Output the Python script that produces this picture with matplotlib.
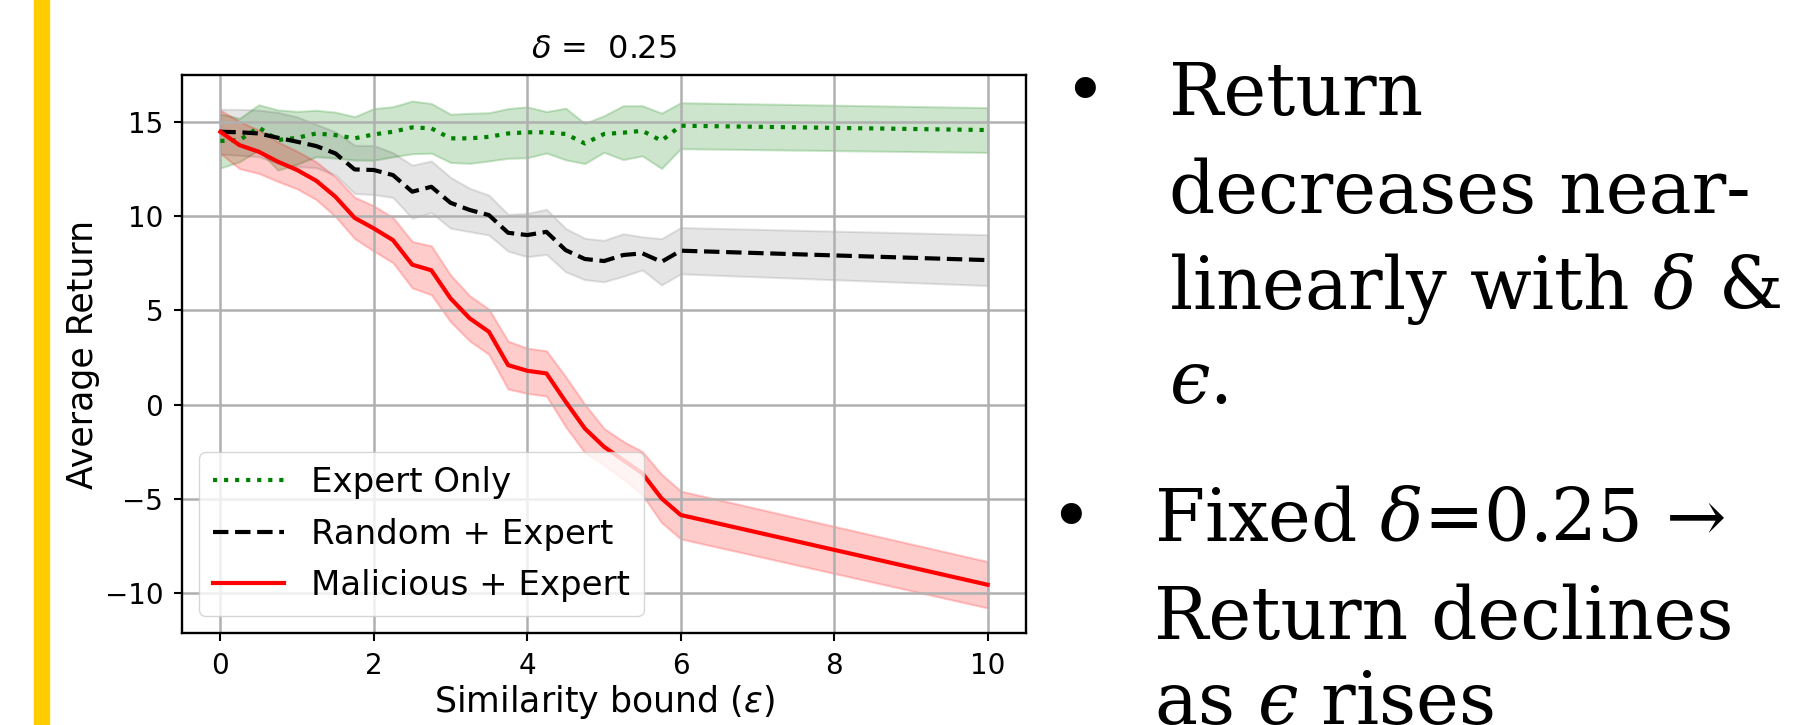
import matplotlib.pyplot as plt
from matplotlib.patches import Rectangle

# similarity bound values (x axis)
eps = [0, 0.25, 0.5, 0.75, 1.0, 1.25, 1.5, 1.75, 2.0, 2.25, 2.5, 2.75, 3.0,
       3.25, 3.5, 3.75, 4.0, 4.25, 4.5, 4.75, 5.0, 5.25, 5.5, 5.75, 6.0, 10]

expert_mean = [13.98, 14.03, 14.70, 14.03, 14.15, 14.38, 14.29, 14.12, 14.33, 14.47,
               14.70, 14.65, 14.12, 14.12, 14.20, 14.38, 14.44, 14.44, 14.35, 13.85,
               14.35, 14.42, 14.52, 13.99, 14.79, 14.56]
expert_std = [1.44, 1.15, 1.20, 1.60, 1.40, 1.23, 1.22, 1.15, 1.37, 1.33,
              1.40, 1.32, 1.28, 1.33, 1.28, 1.32, 1.35, 1.10, 1.37, 1.07,
              0.97, 1.43, 1.33, 1.47, 1.22, 1.19]

random_mean = [14.47, 14.44, 14.38, 14.15, 13.94, 13.71, 13.32, 12.47, 12.44, 12.17,
               11.29, 11.55, 10.70, 10.32, 10.05, 9.11, 8.99, 9.16, 8.19, 7.72,
               7.61, 7.93, 8.02, 7.57, 8.16, 7.66]
random_std = [1.19, 1.22, 1.24, 1.35, 1.32, 1.15, 1.15, 1.28, 1.30, 1.19,
              1.41, 1.37, 1.35, 1.15, 1.06, 0.98, 1.15, 1.20, 1.15, 1.10,
              1.10, 1.13, 0.88, 1.23, 1.23, 1.35]

malicious_mean = [14.47, 13.76, 13.41, 12.88, 12.44, 11.87, 11.02, 9.90, 9.34, 8.72,
                  7.42, 7.12, 5.63, 4.57, 3.86, 2.09, 1.79, 1.65, 0.15, -1.27,
                  -2.24, -2.95, -3.65, -4.98, -5.86, -9.56]
malicious_std = [1.15, 1.25, 1.15, 1.05, 1.00, 1.00, 1.05, 1.10, 1.20, 1.20,
                 1.23, 1.30, 1.24, 1.20, 1.20, 1.27, 1.20, 1.20, 1.33, 1.28,
                 0.97, 1.00, 1.15, 1.28, 1.27, 1.23]

slide_lines = [
    ("Return", 1169, 115),
    ("decreases near-", 1169, 213),
    ("linearly with $\\delta$ &", 1169, 309),
    ("$\u03f5$.", 1169, 403),
    ("Fixed $\\delta$=0.25 \u2192", 1154, 541),
    ("Return declines", 1154, 639),
    ("as $\u03f5$ rises", 1154, 724),
]
bullets = [(1085, 115), (1071, 541)]

plt.rcParams['font.family'] = ['DejaVu Sans']

W, H = 1806, 725
fig = plt.figure(figsize=(W / 100, H / 100), dpi=100)

# yellow bar on the left of the slide
fig.patches.append(Rectangle((34 / W, 0), 15 / W, 1, transform=fig.transFigure,
                             color='#ffcc00', zorder=0))

ax = fig.add_axes([182 / W, 1 - 633 / H, (1026 - 182) / W, (633 - 75) / H])


def lohi(mean, std):
    return [m - s for m, s in zip(mean, std)], [m + s for m, s in zip(mean, std)]


lw = 3.0
ax.plot(eps, expert_mean, ':', color='g', lw=lw, label='Expert Only')
lo, hi = lohi(expert_mean, expert_std)
ax.fill_between(eps, lo, hi, color='g', alpha=0.2, lw=1.5)

ax.plot(eps, random_mean, '--', color='k', lw=lw, label='Random + Expert')
lo, hi = lohi(random_mean, random_std)
ax.fill_between(eps, lo, hi, color='k', alpha=0.1, lw=1.5)

ax.plot(eps, malicious_mean, '-', color='r', lw=lw, label='Malicious + Expert')
lo, hi = lohi(malicious_mean, malicious_std)
ax.fill_between(eps, lo, hi, color='r', alpha=0.2, lw=1.5)

ax.set_xlim(-0.5, 10.5)
ax.set_ylim(-12.12, 17.48)
ax.grid(True, color='#b0b0b0', lw=1.8)
for s in ax.spines.values():
    s.set_linewidth(1.7)
ax.tick_params(labelsize=20, length=5.5, width=1.5, pad=8)

ax.set_title('$\\delta$ =  0.25', fontsize=23, pad=12)
ax.set_xlabel('Similarity bound ($\u03b5$)', fontsize=25, labelpad=2)
ax.set_ylabel('Average Return', fontsize=25)
ax.yaxis.set_label_coords(-0.097, 0.5)

ax.legend(loc='lower left', fontsize=24.5, handlelength=2.1, labelspacing=0.55)

# bullet text on the right
for txt, x, y in slide_lines:
    fig.text(x / W, 1 - y / H, txt, fontsize=52, family='DejaVu Serif',
             math_fontfamily='dejavuserif', va='baseline', ha='left')
for x, y in bullets:
    fig.text(x / W, 1 - y / H, '\u2022', fontsize=52, family='DejaVu Serif',
             va='baseline', ha='center')

fig.savefig('out.png', dpi=100)
